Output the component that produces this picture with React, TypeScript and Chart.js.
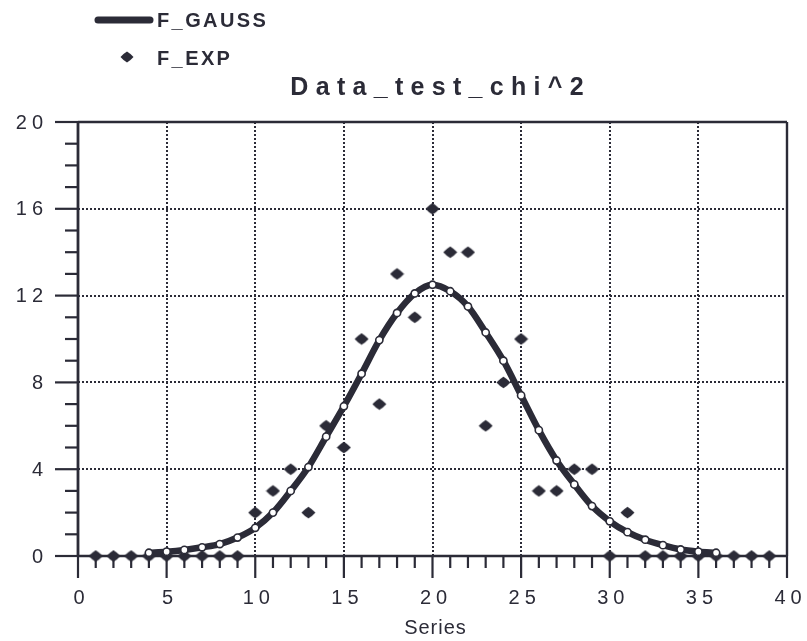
import { useEffect, useRef } from 'react';
import { Chart, registerables } from 'chart.js';

Chart.register(...registerables);

// ---- data -------------------------------------------------------------
const xValues = [
  1, 2, 3, 4, 5, 6, 7, 8, 9, 10, 11, 12, 13, 14, 15, 16, 17, 18, 19, 20,
  21, 22, 23, 24, 25, 26, 27, 28, 29, 30, 31, 32, 33, 34, 35, 36, 37, 38, 39,
];
const gaussValues: (number | null)[] = [
  null, null, null, 0.15, 0.2, 0.28, 0.4, 0.55, 0.85, 1.3, 2.0, 3.0, 4.1, 5.5, 6.9, 8.4, 9.95, 11.2, 12.1, 12.5,
  12.2, 11.5, 10.3, 9.0, 7.4, 5.8, 4.4, 3.3, 2.3, 1.6, 1.1, 0.75, 0.5, 0.3, 0.2, 0.15, null, null, null,
];
const expValues = [
  0, 0, 0, 0, 0, 0, 0, 0, 0, 2, 3, 4, 2, 6, 5, 10, 7, 13, 11, 16,
  14, 14, 6, 8, 10, 3, 3, 4, 4, 0, 2, 0, 0, 0, 0, 0, 0, 0, 0,
];
const seriesNames = ['F_GAUSS', 'F_EXP'];
const xTickLabels = ['0', '5', '10', '15', '20', '25', '30', '35', '40'];
const yTickLabels = ['0', '4', '8', '12', '16', '20'];
const chartTitle = 'Data_test_chi^2';
const xAxisTitle = 'Series';

// ---- styling ----------------------------------------------------------
const INK = '#2b2b37';
const FONT = '"Liberation Sans", Arial, Helvetica, sans-serif';

const xMajor = xTickLabels.map(Number);
const yMajor = yTickLabels.map(Number);

function spacedText(
  ctx: CanvasRenderingContext2D,
  text: string,
  x: number,
  y: number,
  spacing: number,
  align: 'left' | 'center' | 'right',
) {
  (ctx as any).letterSpacing = `${spacing}px`;
  ctx.textAlign = 'left';
  const w = ctx.measureText(text).width - spacing;
  let left = x;
  if (align === 'center') left = x - w / 2;
  if (align === 'right') left = x - w;
  ctx.fillText(text, left, y);
  (ctx as any).letterSpacing = '0px';
}

// diamond with slightly rounded sides
function diamond(ctx: CanvasRenderingContext2D, cx: number, cy: number, rw: number, rh: number) {
  const k = 0.58;
  ctx.beginPath();
  ctx.moveTo(cx, cy - rh);
  ctx.quadraticCurveTo(cx + rw * k, cy - rh * k, cx + rw, cy);
  ctx.quadraticCurveTo(cx + rw * k, cy + rh * k, cx, cy + rh);
  ctx.quadraticCurveTo(cx - rw * k, cy + rh * k, cx - rw, cy);
  ctx.quadraticCurveTo(cx - rw * k, cy - rh * k, cx, cy - rh);
  ctx.closePath();
  ctx.fill();
}

// slightly flattened diamond marker used as the point style of F_EXP
function makeDiamondMarker(): HTMLCanvasElement {
  const c = document.createElement('canvas');
  c.width = 15;
  c.height = 13;
  const g = c.getContext('2d')!;
  g.fillStyle = INK;
  diamond(g, 7.5, 6.5, 7, 5.8);
  return c;
}

const paperPlugin = {
  id: 'paperFrame',
  beforeDatasetsDraw(chart: any) {
    const { ctx, chartArea: a } = chart;
    const xs = chart.scales.x;
    const ys = chart.scales.y;
    ctx.save();

    // dotted grid at the labelled values
    ctx.strokeStyle = INK;
    ctx.lineWidth = 2;
    ctx.setLineDash([2, 2]);
    xMajor.slice(1, -1).forEach((v) => {
      const px = Math.round(xs.getPixelForValue(v));
      ctx.beginPath();
      ctx.moveTo(px, a.top);
      ctx.lineTo(px, a.bottom);
      ctx.stroke();
    });
    yMajor.slice(1, -1).forEach((v) => {
      const py = Math.round(ys.getPixelForValue(v));
      ctx.beginPath();
      ctx.moveTo(a.left, py);
      ctx.lineTo(a.right, py);
      ctx.stroke();
    });
    ctx.setLineDash([]);

    // tick marks: every unit, longer at labelled values
    ctx.lineWidth = 2.2;
    for (let v = xs.min; v <= xs.max; v++) {
      const px = xs.getPixelForValue(v);
      const len = xMajor.includes(v) ? 22 : 12;
      ctx.beginPath();
      ctx.moveTo(px, a.bottom);
      ctx.lineTo(px, a.bottom + len);
      ctx.stroke();
    }
    for (let v = ys.min; v <= ys.max; v++) {
      const py = ys.getPixelForValue(v);
      const len = yMajor.includes(v) ? 23 : 13;
      ctx.beginPath();
      ctx.moveTo(a.left, py);
      ctx.lineTo(a.left - len, py);
      ctx.stroke();
    }

    // frame
    ctx.lineWidth = 2.4;
    ctx.beginPath();
    ctx.moveTo(a.left, a.top);
    ctx.lineTo(a.right, a.top);
    ctx.moveTo(a.right, a.top);
    ctx.lineTo(a.right, a.bottom);
    ctx.moveTo(a.left, a.bottom);
    ctx.lineTo(a.right, a.bottom);
    ctx.stroke();
    ctx.lineWidth = 2.8;
    ctx.beginPath();
    ctx.moveTo(a.left, a.top);
    ctx.lineTo(a.left, a.bottom);
    ctx.stroke();
    ctx.restore();
  },
  afterDraw(chart: any) {
    const { ctx, chartArea: a } = chart;
    const xs = chart.scales.x;
    const ys = chart.scales.y;
    ctx.save();
    ctx.fillStyle = INK;
    ctx.strokeStyle = INK;

    // tick labels
    ctx.font = `20px ${FONT}`;
    ctx.textBaseline = 'alphabetic';
    xTickLabels.forEach((t, i) => {
      spacedText(ctx, t, xs.getPixelForValue(xMajor[i]) + 1, a.bottom + 48, 5, 'center');
    });
    ctx.textBaseline = 'middle';
    yTickLabels.forEach((t, i) => {
      spacedText(ctx, t, 43, ys.getPixelForValue(yMajor[i]) + 1, 5, 'right');
    });

    // axis title
    ctx.textBaseline = 'alphabetic';
    ctx.font = `20px ${FONT}`;
    spacedText(ctx, xAxisTitle, 435, 634, 1, 'center');

    // chart title
    ctx.font = `bold 25px ${FONT}`;
    spacedText(ctx, chartTitle, 437, 95, 7.3, 'center');

    // legend
    ctx.font = `bold 20px ${FONT}`;
    ctx.lineCap = 'round';
    ctx.lineWidth = 7;
    ctx.beginPath();
    ctx.moveTo(98, 20);
    ctx.lineTo(150, 20);
    ctx.stroke();
    spacedText(ctx, seriesNames[0], 157, 27, 2.4, 'left');
    diamond(ctx, 127, 57, 6.5, 5.5);
    spacedText(ctx, seriesNames[1], 157, 65, 2.4, 'left');

    ctx.restore();
  },
};

export default function App() {
  const canvasRef = useRef<HTMLCanvasElement | null>(null);

  useEffect(() => {
    const canvas = canvasRef.current;
    if (!canvas) return;

    const marker = makeDiamondMarker();

    const chart = new Chart(canvas, {
      type: 'scatter',
      data: {
        datasets: [
          {
            label: seriesNames[0],
            data: xValues.map((x, i) => ({ x, y: gaussValues[i] as any })),
            showLine: true,
            borderColor: INK,
            borderWidth: 6.5,
            cubicInterpolationMode: 'monotone',
            spanGaps: false,
            pointStyle: 'circle',
            pointRadius: 3.6,
            pointBorderWidth: 1.6,
            pointBackgroundColor: '#ffffff',
            pointBorderColor: INK,
            clip: false,
            order: 0,
          } as any,
          {
            label: seriesNames[1],
            data: xValues.map((x, i) => ({ x, y: expValues[i] })),
            showLine: false,
            pointStyle: marker,
            pointRadius: 7,
            pointBorderWidth: 0,
            pointBackgroundColor: INK,
            pointBorderColor: INK,
            clip: false,
            order: 1,
          } as any,
        ],
      },
      options: {
        animation: false,
        responsive: false,
        events: [],
        layout: { padding: { left: 78, right: 20, top: 122, bottom: 85 } },
        plugins: {
          legend: { display: false },
          title: { display: false },
          tooltip: { enabled: false },
        },
        scales: {
          x: { type: 'linear', min: 0, max: 40, display: false },
          y: { type: 'linear', min: 0, max: 20, display: false },
        },
      },
      plugins: [paperPlugin],
    });

    return () => chart.destroy();
  }, []);

  return (
    <div style={{ position: 'fixed', left: 0, top: 0, width: 807, height: 641, background: '#ffffff' }}>
      <canvas ref={canvasRef} width={807} height={641} style={{ display: 'block' }} />
    </div>
  );
}
